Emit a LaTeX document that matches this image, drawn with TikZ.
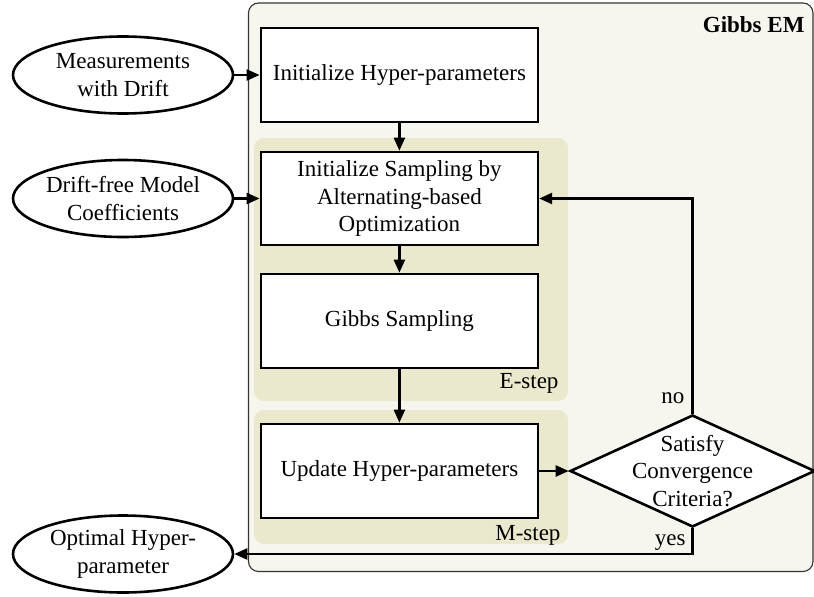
\documentclass[tikz,border=0pt]{standalone}
\usepackage{fontspec}
\setmainfont{Liberation Serif}
\usetikzlibrary{shapes.geometric,arrows.meta}
\definecolor{framefill}{RGB}{247,246,238}
\definecolor{stepfill}{RGB}{234,232,205}
\tikzset{
  every node/.style={font=\fontsize{23}{27.6}\selectfont, align=center},
  procbox/.style={draw, fill=white, line width=2.6pt, minimum width=277pt, minimum height=94pt, inner sep=0pt},
  databox/.style={ellipse, draw, fill=white, line width=2.6pt, minimum width=220pt, minimum height=77pt, inner sep=0pt},
  decision/.style={diamond, draw, fill=white, line width=2.6pt, minimum width=245pt, minimum height=112pt, inner sep=0pt},
  flow/.style={line width=2.4pt, -{Triangle[length=13pt,width=11pt]}},
  steparea/.style={fill=stepfill, rounded corners=10pt}
}
\begin{document}
\begin{tikzpicture}[x=1pt,y=-1pt]
\useasboundingbox (0,0) rectangle (814,597);
% outer frame of the Gibbs EM loop
\draw[fill=framefill, draw=black!80, line width=1.1pt, rounded corners=10pt] (248.5,3) rectangle (813,571.5);
\node[anchor=base east, font=\fontsize{23}{27.6}\selectfont\bfseries] (title) at (808,32) {Gibbs EM};
% E-step and M-step areas
\fill[steparea] (254,138) rectangle (568,401);
\fill[steparea] (254,410) rectangle (568,544);
\node[anchor=base east] (elab) at (562,388) {E-step};
\node[anchor=base east] (mlab) at (564,540) {M-step};
% process boxes
\node[procbox] (init) at (399.4,75) {Initialize Hyper-parameters};
\node[procbox, minimum height=93pt] (samp) at (399.4,198.5) {Initialize Sampling by\\Alternating-based\\Optimization};
\node[procbox] (gibbs) at (399.4,321) {Gibbs Sampling};
\node[procbox] (upd) at (399.4,471) {Update Hyper-parameters};
% convergence test
\node[decision] (conv) at (692.5,471) {};
\node (convtxt) at (conv) {Satisfy\\Convergence\\Criteria?};
% inputs and output
\node[databox] (meas) at (123,75) {Measurements\\with Drift};
\node[databox] (coef) at (123,198.5) {Drift-free Model\\Coefficients};
\node[databox] (opt) at (123,554) {Optimal Hyper-\\parameter};
% connectors
\draw[flow] (meas) -- (init);
\draw[flow] (coef) -- (samp);
\draw[flow] (init) -- (samp);
\draw[flow] (samp) -- (gibbs);
\draw[flow] (gibbs) -- (upd);
\draw[flow] (upd) -- (conv);
\draw[flow] (conv.north) |- (samp.east);
\draw[flow] (conv.south) |- (opt.east);
\node[anchor=base east] (nolab) at (688,403) {no};
\node[anchor=base east] (yeslab) at (689,545) {yes};
\end{tikzpicture}
\end{document}
